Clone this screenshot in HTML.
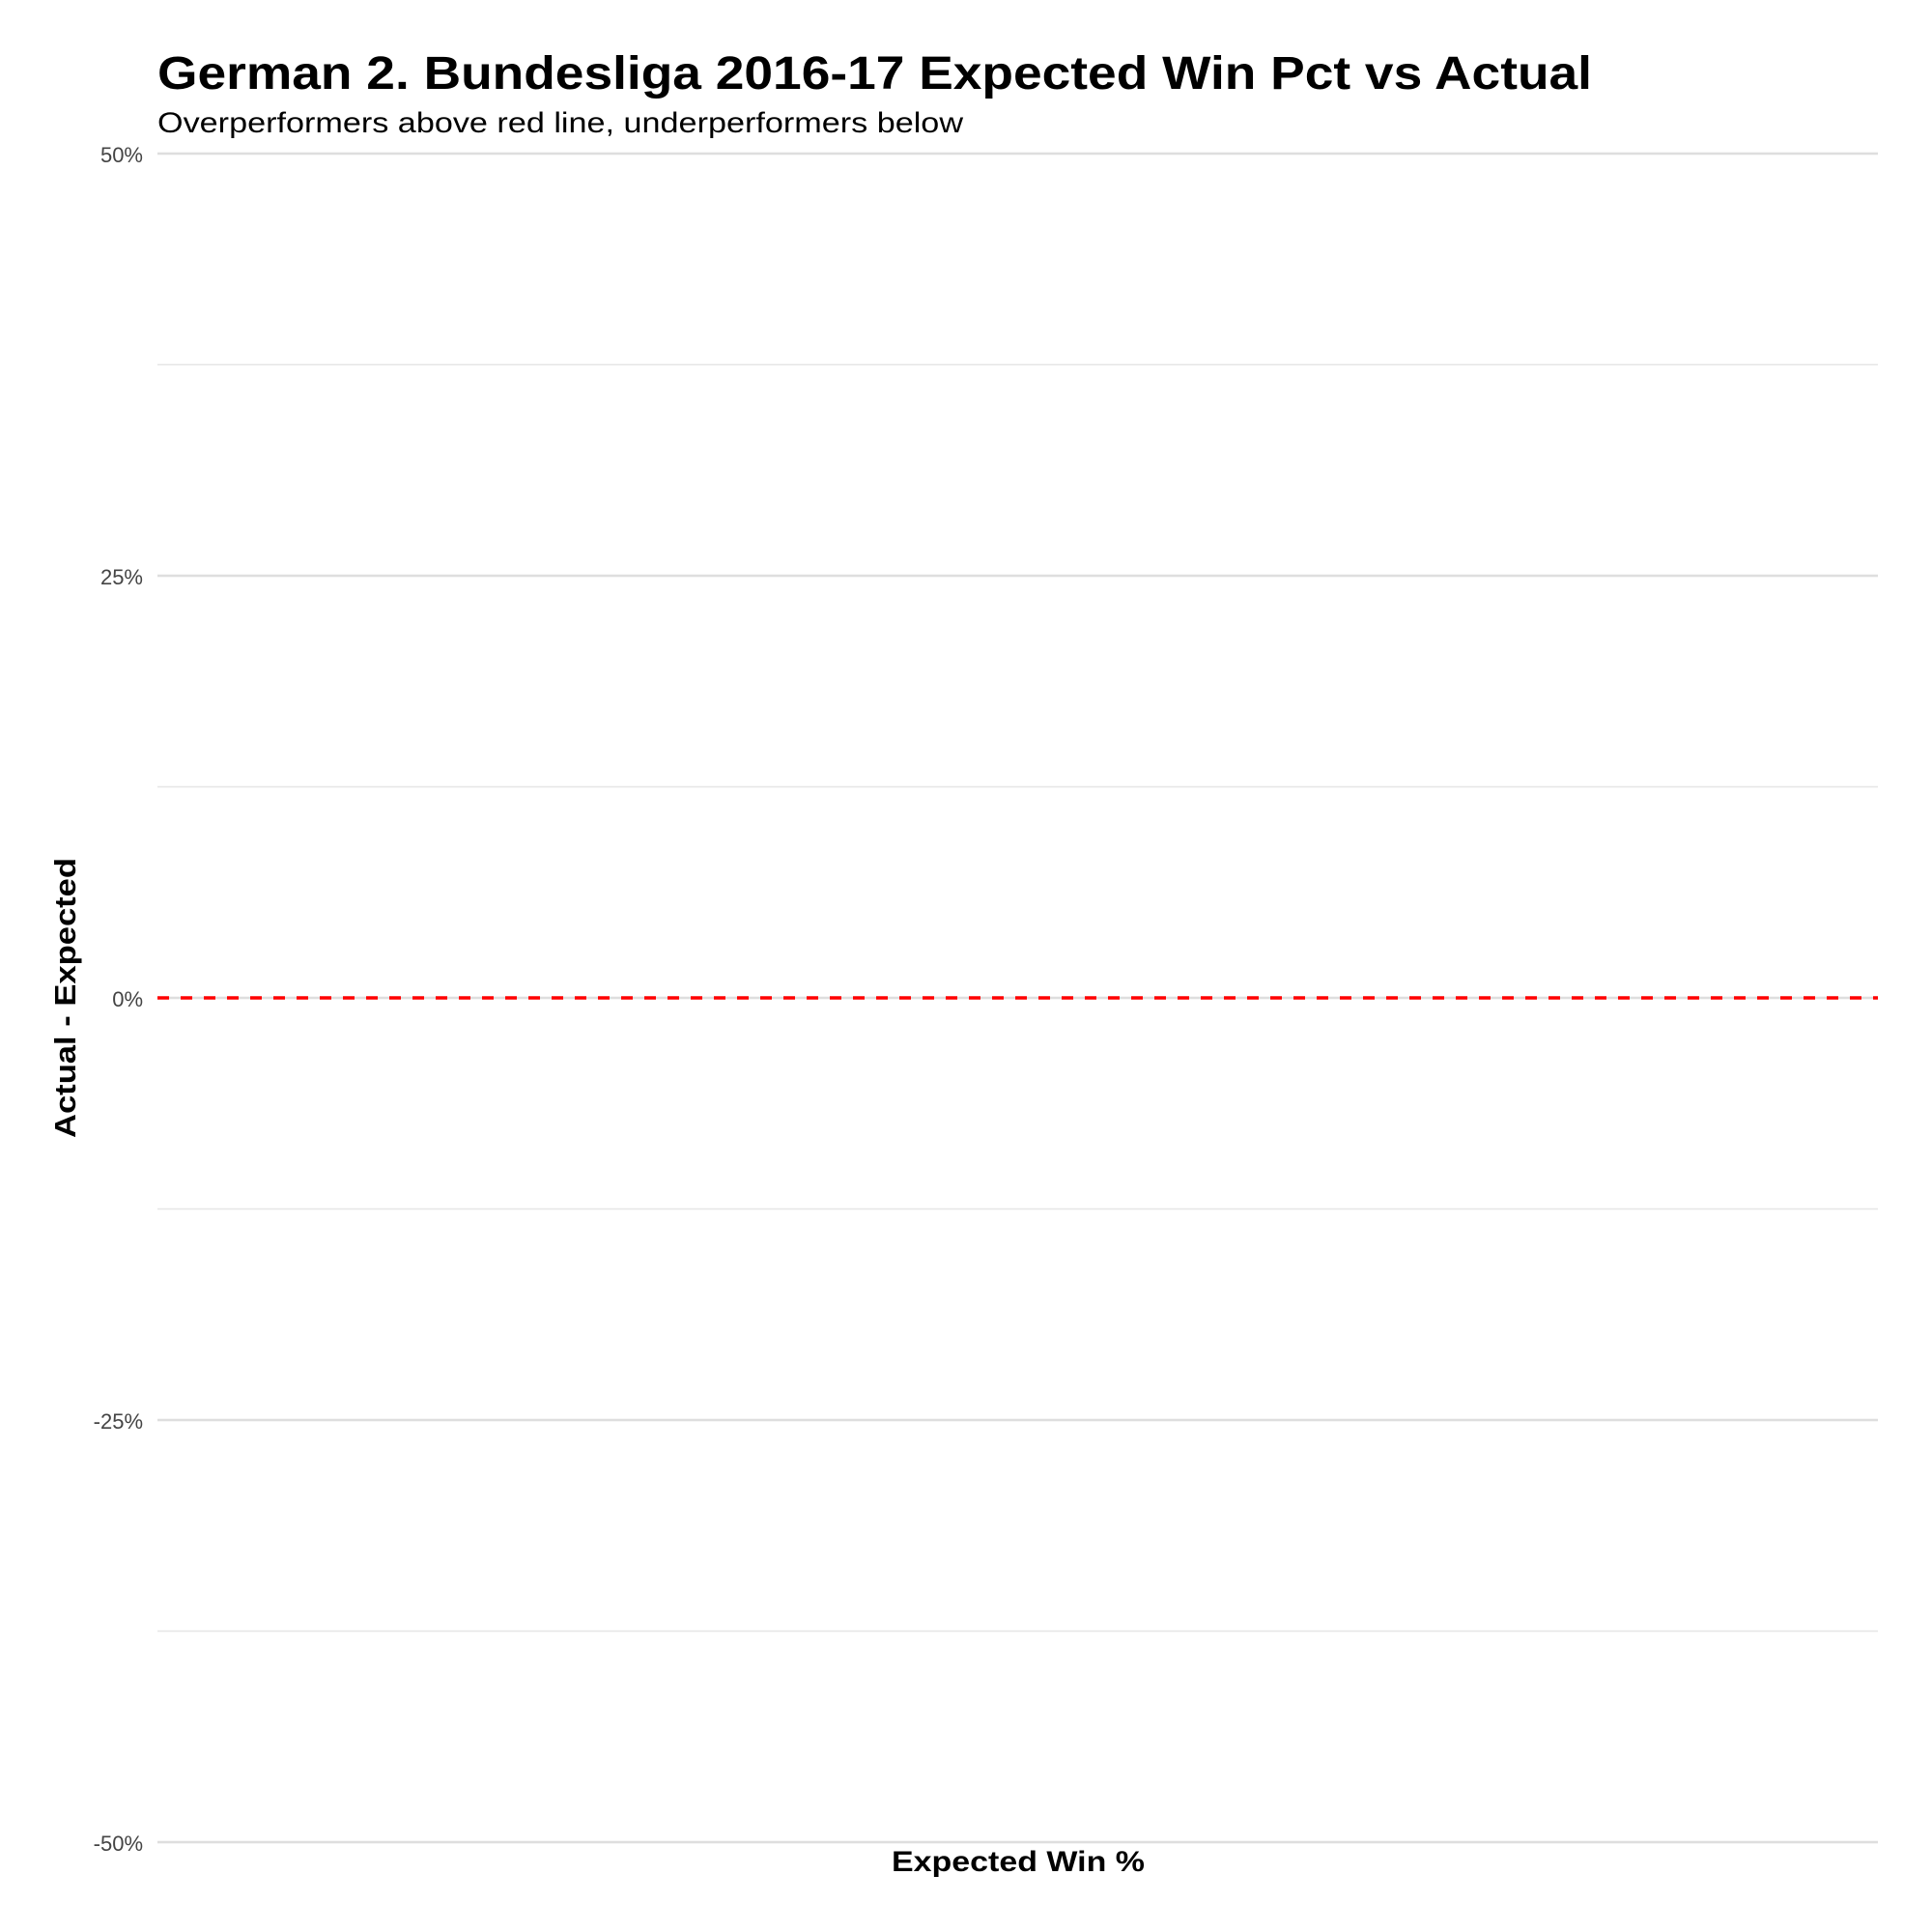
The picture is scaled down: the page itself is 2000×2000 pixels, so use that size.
<!DOCTYPE html>
<html><head><meta charset="utf-8"><style>html,body{margin:0;padding:0;background:#fff}svg{display:block}</style></head>
<body>
<svg id="chart" width="2000" height="2000" viewBox="0 0 2000 2000" xmlns="http://www.w3.org/2000/svg" font-family="'Liberation Sans', sans-serif">
<rect x="0" y="0" width="2000" height="2000" fill="#fff"/>
<text x="163" y="92" font-size="48" font-weight="bold" fill="#000" textLength="1485" lengthAdjust="spacingAndGlyphs">German 2. Bundesliga 2016-17 Expected Win Pct vs Actual</text>
<text x="163" y="137" font-size="30" fill="#000" textLength="834" lengthAdjust="spacingAndGlyphs">Overperformers above red line, underperformers below</text>
<g id="grid"></g>
<g id="ticks"></g>
<g id="marks"></g>
<text x="78" y="1033" font-size="31" font-weight="bold" fill="#000" text-anchor="middle" textLength="290" lengthAdjust="spacingAndGlyphs" transform="rotate(-90 78 1033)">Actual - Expected</text>
<text x="1054" y="1937" font-size="30" font-weight="bold" fill="#000" text-anchor="middle" textLength="262" lengthAdjust="spacingAndGlyphs">Expected Win %</text>
</svg>
<script>
const yMajorTicks = [0.5, 0.25, 0, -0.25, -0.5];
const yTickLabels = ["50%", "25%", "0%", "-25%", "-50%"];
const yMinorTicks = [0.375, 0.125, -0.125, -0.375];
const refLineValues = [0];

const NS = "http://www.w3.org/2000/svg";
const L = 163, R = 1944, T = 159, B = 1907;
function y(v){ return T + (0.5 - v) / 1.0 * (B - T); }
const grid = document.getElementById('grid');
const ticks = document.getElementById('ticks');
const marks = document.getElementById('marks');
yMinorTicks.forEach(v => {
  const l = document.createElementNS(NS, 'line');
  l.setAttribute('x1', L); l.setAttribute('x2', R);
  l.setAttribute('y1', y(v)); l.setAttribute('y2', y(v));
  l.setAttribute('stroke', '#e6e6e6'); l.setAttribute('stroke-width', '1.6');
  
  
  grid.appendChild(l);
});
yMajorTicks.forEach((v, i) => {
  const l = document.createElementNS(NS, 'line');
  l.setAttribute('x1', L); l.setAttribute('x2', R);
  l.setAttribute('y1', y(v)); l.setAttribute('y2', y(v));
  l.setAttribute('stroke', '#dedede'); l.setAttribute('stroke-width', '2.4');
  
  
  grid.appendChild(l);
  const t = document.createElementNS(NS, 'text');
  t.setAttribute('x', 148); t.setAttribute('y', y(v) + 9);
  t.setAttribute('text-anchor', 'end'); t.setAttribute('font-size', '22');
  t.setAttribute('fill', '#444');
  t.textContent = yTickLabels[i];
  
  
  ticks.appendChild(t);
});
refLineValues.forEach(v => {
  const l = document.createElementNS(NS, 'line');
  l.setAttribute('x1', L); l.setAttribute('x2', R);
  l.setAttribute('y1', y(v)); l.setAttribute('y2', y(v));
  l.setAttribute('stroke', '#ff0000'); l.setAttribute('stroke-width', '3.5');
  l.setAttribute('stroke-dasharray', '12 12');
  
  
  marks.appendChild(l);
});
</script>
</body></html>
